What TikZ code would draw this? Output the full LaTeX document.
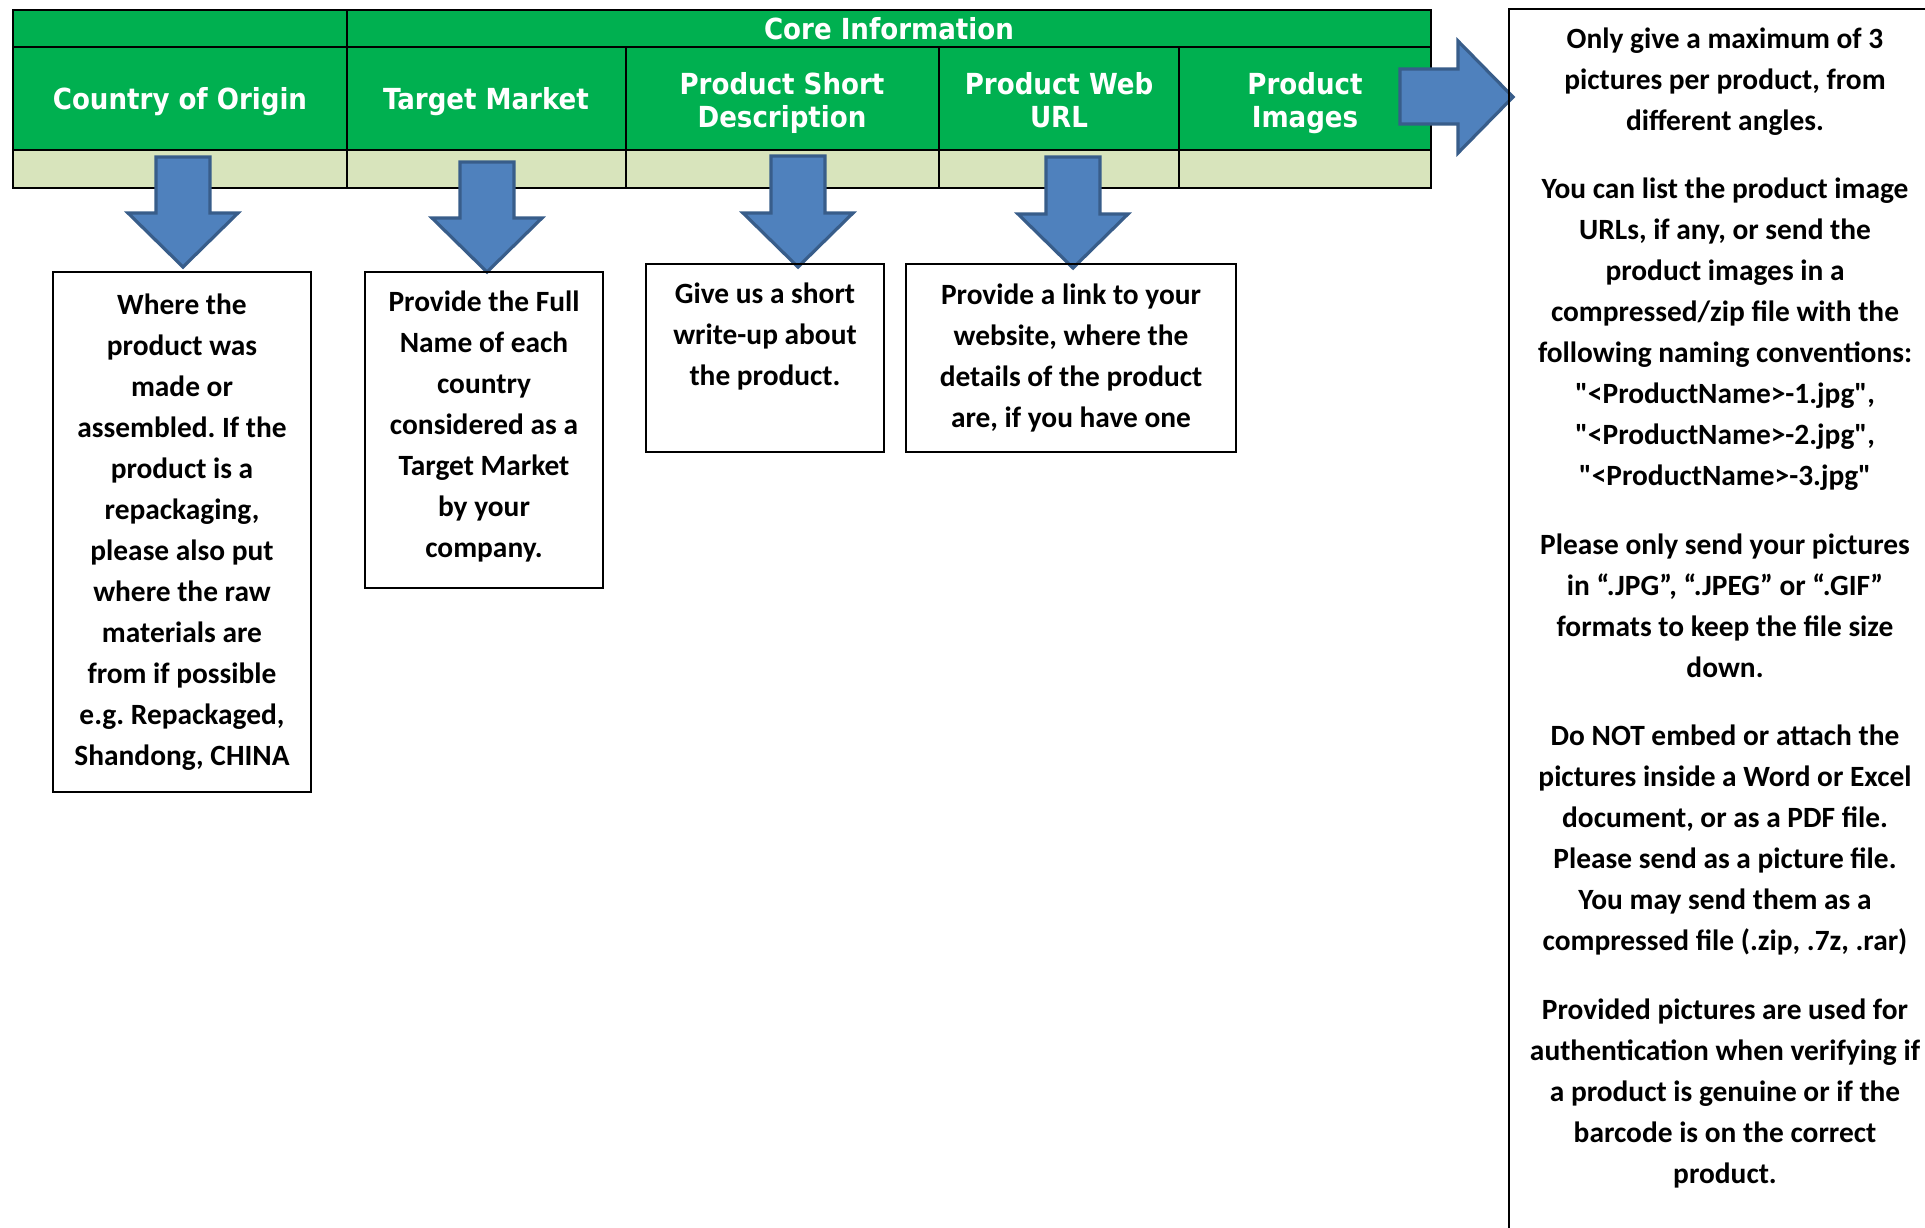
\documentclass[tikz,border=0pt]{standalone}
\usepackage{fontspec}
\setmainfont{Carlito}[Ligatures=TeXOff]
\newfontfamily\hdrfont{DejaVu Sans Condensed}
\usetikzlibrary{positioning}
\frenchspacing

\definecolor{hdrgreen}{HTML}{00B050}
\definecolor{rowgreen}{HTML}{D8E4BC}
\definecolor{arrowblue}{HTML}{4F81BD}
\definecolor{arrowedge}{HTML}{385D8A}

\tikzset{
  tablerule/.style={draw=black, line width=1pt},
  hdr/.style={font=\hdrfont\bfseries\fontsize{14.5}{16.5}\selectfont, text=white, align=center, inner sep=0pt},
  notetext/.style={align=center, inner sep=0pt, font=\bfseries\fontsize{14.7}{20.5}\selectfont},
  notebox/.style={notetext, draw=black, line width=0.8pt},
  blockarrow/.style={fill=arrowblue, draw=arrowedge, line width=1.6pt},
}

% block arrow pointing down: x, top y, tip y
\newcommand{\blockdown}[3]{%
  \draw[blockarrow] (#1-27,#2) -- (#1+27,#2) -- (#1+27,#3-54) -- (#1+55,#3-54)
    -- (#1,#3) -- (#1-55,#3-54) -- (#1-27,#3-54) -- cycle;}

\begin{document}
\begin{tikzpicture}[x=0.5pt, y=-0.5pt]
\useasboundingbox (0,0) rectangle (1925,1227);
\clip (0,0) rectangle (1925,1227);

% Table
\fill[hdrgreen] (13,10) rectangle (1431,150);
\fill[rowgreen] (13,150) rectangle (1431,188);
\draw[tablerule] (13,10) rectangle (1431,188);
\draw[tablerule] (13,47) -- (1431,47);
\draw[tablerule] (13,150) -- (1431,150);
\draw[tablerule] (347,10) -- (347,188);
\foreach \x in {626,939,1179}
  \draw[tablerule] (\x,47) -- (\x,188);

% Header texts
\node[hdr] (core) at (889,29) {Core Information};
\node[hdr] (origin) at (180,102) {Country of Origin};
\node[hdr] (market) at (486,102) {Target Market};
\node[hdr] (shortdesc) at (782,103) {Product Short\\Description};
\node[hdr] (weburl) at (1059,100) {Product Web\\URL};
\node[hdr] (images) at (1305,103) {Product\\Images};

% Arrows
\blockdown{183}{157}{267}
\blockdown{487}{162}{272}
\blockdown{798}{156}{267}
\blockdown{1073}{157}{268}
\draw[blockarrow] (1400,69) -- (1458,69) -- (1458,41) -- (1513,97)
  -- (1458,153) -- (1458,124) -- (1400,124) -- cycle;

% Notes
\node[notebox, minimum width=129pt, minimum height=260pt] (originnote) at (182,532)
  {Where the\\product was\\made or\\assembled. If the\\product is a\\repackaging,\\please also put\\where the raw\\materials are\\from if possible\\e.g. Repackaged,\\Shandong, CHINA};
\node[notebox, minimum width=119pt, minimum height=158pt] (marketnote) at (484,430) {};
\node[notetext] (markettext) at (484,426)
  {Provide the Full\\Name of each\\country\\considered as a\\Target Market\\by your\\company.};
\node[notebox, minimum width=119pt, minimum height=94pt] (descnote) at (765,358) {};
\node[notetext, below=9.5pt of descnote.north] (desctext)
  {Give us a short\\write-up about\\the product.};
\node[notebox, minimum width=165pt, minimum height=94pt] (urlnote) at (1071,358)
  {Provide a link to your\\website, where the\\details of the product\\are, if you have one};

% Images note
\draw[black, line width=0.8pt] (1509,9) rectangle (1941,1250);
\node[notetext, anchor=north] (imagesnote) at (1725,27)
  {Only give a maximum of 3\\pictures per product, from\\different angles.\\[13.8pt]
   You can list the product image\\URLs, if any, or send the\\product images in a\\compressed/zip file with the\\following naming conventions:\\"<ProductName>-1.jpg",\\"<ProductName>-2.jpg",\\"<ProductName>-3.jpg"\\[13.8pt]
   Please only send your pictures\\in “.JPG”, “.JPEG” or “.GIF”\\formats to keep the file size\\down.\\[13.8pt]
   Do NOT embed or attach the\\pictures inside a Word or Excel\\document, or as a PDF file.\\Please send as a picture file.\\You may send them as a\\compressed file (.zip, .7z, .rar)\\[13.8pt]
   Provided pictures are used for\\authentication when verifying if\\a product is genuine or if the\\barcode is on the correct\\product.};
\end{tikzpicture}
\end{document}
